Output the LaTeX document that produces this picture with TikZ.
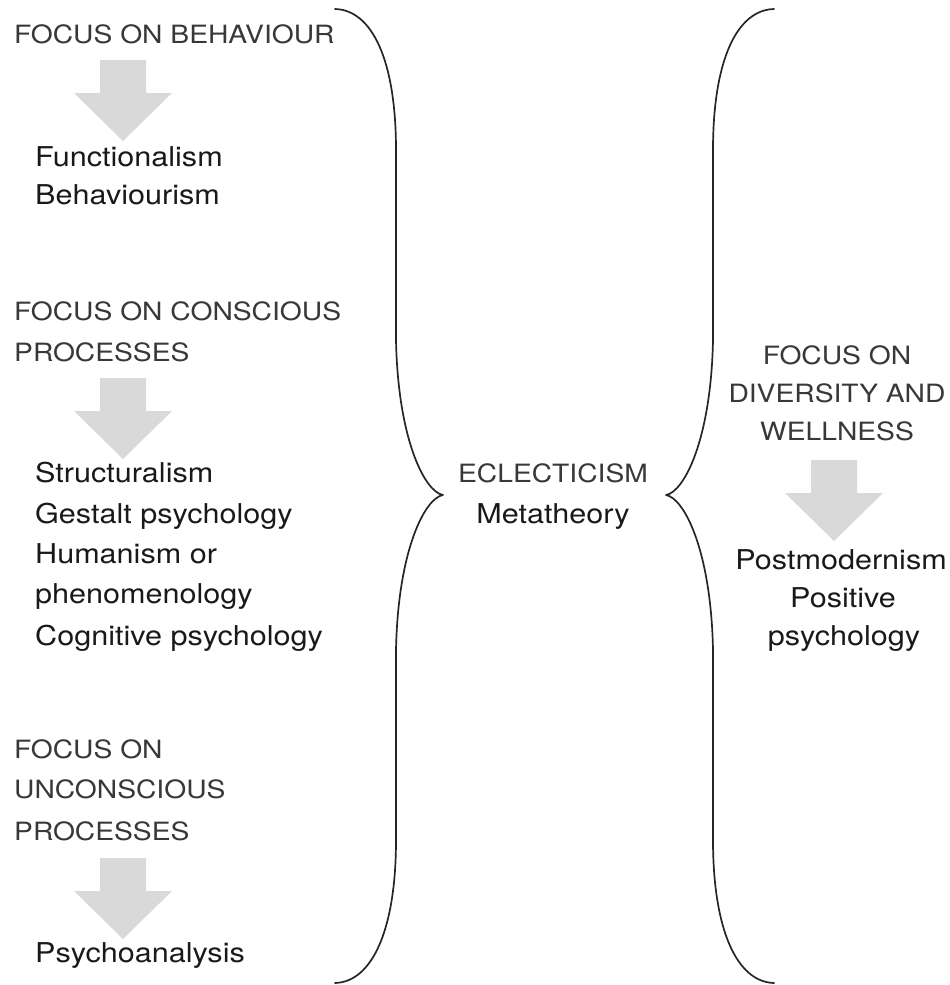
\documentclass[tikz,border=0pt]{standalone}
\usepackage{fontspec}
\setmainfont{TeX Gyre Heros}[FakeStretch=1.12]
\newcommand{\capsfont}{\fontsize{25.2}{30}\selectfont}
\newcommand{\bodyfont}{\fontsize{27.3}{32}\selectfont}
\definecolor{arrowgray}{HTML}{D9D9D9}
\definecolor{bracegray}{HTML}{262626}

\tikzset{
  capsL/.style={anchor=base west, inner sep=0pt, font=\capsfont, text=black!78},
  capsC/.style={anchor=base, inner sep=0pt, font=\capsfont, text=black!78},
  bodyL/.style={anchor=base west, inner sep=0pt, font=\bodyfont, text=black!90},
  bodyC/.style={anchor=base, inner sep=0pt, font=\bodyfont, text=black!90},
  bracestroke/.style={draw=bracegray, line width=1.7pt, line cap=round, line join=round},
  graydownarrow/.pic={
    \fill[arrowgray] (-23,0) -- (23,0) -- (23,33) -- (49,33) -- (0,81)
      -- (-49,33) -- (-23,33) -- cycle;
  }
}

\begin{document}
\begin{tikzpicture}[x=1pt, y=-1pt]
\useasboundingbox (0,0) rectangle (950,985);

% ---- left column: behaviour ----
\node[capsL] (beh) at (14,43) {FOCUS ON BEHAVIOUR};
\pic at (123,60) {graydownarrow};
\node[bodyL] (func) at (35,166) {Functionalism};
\node[bodyL] (behv) at (35,204) {Behaviourism};

% ---- left column: conscious processes ----
\node[capsL] (con1) at (14,320) {FOCUS ON CONSCIOUS};
\node[capsL] (con2) at (14,361) {PROCESSES};
\pic at (123,378) {graydownarrow};
\node[bodyL] (struct) at (35,482) {Structuralism};
\node[bodyL] (gest)   at (35,523) {Gestalt psychology};
\node[bodyL] (hum)    at (35,563) {Humanism or};
\node[bodyL] (phen)   at (35,603) {phenomenology};
\node[bodyL] (cogn)   at (35,645) {Cognitive psychology};

% ---- left column: unconscious processes ----
\node[capsL] (unc1) at (14,758) {FOCUS ON};
\node[capsL] (unc2) at (14,798) {UNCONSCIOUS};
\node[capsL] (unc3) at (14,840) {PROCESSES};
\pic at (123,858) {graydownarrow};
\node[bodyL] (psy) at (35,962) {Psychoanalysis};

% ---- centre ----
\node[capsC] (ecl)  at (553,482) {ECLECTICISM};
\node[bodyC] (meta) at (553,523) {Metatheory};

% ---- right column: diversity and wellness ----
\node[capsC] (div1) at (837,364) {FOCUS ON};
\node[capsC] (div2) at (837,402) {DIVERSITY AND};
\node[capsC] (div3) at (837,440) {WELLNESS};
\pic at (834,460) {graydownarrow};
\node[bodyC] (post) at (841,569) {Postmodernism};
\node[bodyC] (posi) at (843,607) {Positive};
\node[bodyC] (psyc) at (844,645) {psychology};

% ---- curly braces (right one mirrors the left about x = 554.5) ----
\coordinate (bTop) at (335,9);
\coordinate (bTip) at (443,495);
\coordinate (bBot) at (335,983);
\draw[bracestroke] (bTop) .. controls (372,10) and (396,60) .. (396,150)
  -- (396,340) .. controls (398,440) and (425,492) .. (bTip)
  .. controls (425,498) and (398,550) .. (396,650)
  -- (396,840) .. controls (396,930) and (372,982) .. (bBot);
\begin{scope}[xshift=1109pt, xscale=-1]
\coordinate (rTop) at (335,9);
\coordinate (rTip) at (443,495);
\coordinate (rBot) at (335,983);
\draw[bracestroke] (rTop) .. controls (372,10) and (396,60) .. (396,150)
  -- (396,340) .. controls (398,440) and (425,492) .. (rTip)
  .. controls (425,498) and (398,550) .. (396,650)
  -- (396,840) .. controls (396,930) and (372,982) .. (rBot);
\end{scope}
\end{tikzpicture}
\end{document}
